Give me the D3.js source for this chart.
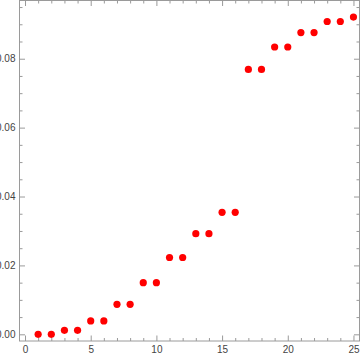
<!DOCTYPE html>
<html>
<head>
<meta charset="utf-8">
<script src="https://cdn.jsdelivr.net/npm/d3@7"></script>
<style>
  body { margin: 0; background: #fff; }
  svg { display: block; font-family: "Liberation Sans", Arial, sans-serif; }
  .axis text { font-size: 10px; fill: #444; }
  .axis line { stroke: #9a9a9a; }
  .axis path { display: none; }
</style>
</head>
<body>
<svg id="chart" width="361" height="356"></svg>
<script>
// data
var xValues = [1, 2, 3, 4, 5, 6, 7, 8, 9, 10, 11, 12, 13, 14, 15, 16, 17, 18, 19, 20, 21, 22, 23, 24, 25];
var yValues = [0, 0, 0.00116, 0.00116, 0.0039, 0.0039, 0.0087, 0.0087, 0.015, 0.015,
  0.0223, 0.0223, 0.0292, 0.0292, 0.0354, 0.0354, 0.0769, 0.0769, 0.0834, 0.0834,
  0.0876, 0.0876, 0.0908, 0.0908, 0.0921];
var xTicks = [0, 5, 10, 15, 20, 25];
var yTicks = [0, 0.02, 0.04, 0.06, 0.08];

function drawChart() {
  var points = xValues.map(function(d, i) { return {x: d, y: yValues[i]}; });

  // frame edges in pixels
  var frameLeft = 19.5, frameRight = 359.5, frameTop = 0.5, frameBottom = 341;

  var x = d3.scaleLinear().domain([-0.42, 25.46]).range([frameLeft, frameRight]);
  var y = d3.scaleLinear().domain([-0.00194, 0.0969]).range([frameBottom, frameTop]);

  var xMinor = d3.range(0, 26, 1).filter(function(d) { return d % 5 !== 0; });
  var yMinor = d3.range(0, 0.0951, 0.005).filter(function(d) { return Math.round(d * 1000) % 20 !== 0; });

  var svg = d3.select('#chart');

  // frame
  svg.append('rect')
    .attr('x', frameLeft).attr('y', frameTop)
    .attr('width', frameRight - frameLeft).attr('height', frameBottom - frameTop)
    .attr('fill', 'none').attr('stroke', '#9a9a9a');

  // inward ticks, labels on bottom and left
  svg.append('g').attr('class', 'axis')
    .attr('transform', 'translate(0,' + frameBottom + ')')
    .call(d3.axisBottom(x).tickValues(xTicks).tickSizeInner(-5.5).tickSizeOuter(0).tickPadding(4.5)
      .tickFormat(d3.format('d')));
  svg.append('g').attr('class', 'axis')
    .attr('transform', 'translate(0,' + frameBottom + ')')
    .call(d3.axisBottom(x).tickValues(xMinor).tickSizeInner(-3).tickSizeOuter(0).tickFormat(''));
  svg.append('g').attr('class', 'axis')
    .attr('transform', 'translate(' + frameLeft + ',0)')
    .call(d3.axisLeft(y).tickValues(yTicks).tickSizeInner(-5.5).tickSizeOuter(0).tickPadding(4)
      .tickFormat(d3.format('.2f')));
  svg.append('g').attr('class', 'axis')
    .attr('transform', 'translate(' + frameLeft + ',0)')
    .call(d3.axisLeft(y).tickValues(yMinor).tickSizeInner(-3).tickSizeOuter(0).tickFormat(''));

  // mirrored ticks on top and right
  svg.append('g').attr('class', 'axis')
    .attr('transform', 'translate(0,' + frameTop + ')')
    .call(d3.axisTop(x).tickValues(xTicks).tickSizeInner(-5.5).tickSizeOuter(0).tickFormat(''));
  svg.append('g').attr('class', 'axis')
    .attr('transform', 'translate(0,' + frameTop + ')')
    .call(d3.axisTop(x).tickValues(xMinor).tickSizeInner(-3).tickSizeOuter(0).tickFormat(''));
  svg.append('g').attr('class', 'axis')
    .attr('transform', 'translate(' + frameRight + ',0)')
    .call(d3.axisRight(y).tickValues(yTicks).tickSizeInner(-5.5).tickSizeOuter(0).tickFormat(''));
  svg.append('g').attr('class', 'axis')
    .attr('transform', 'translate(' + frameRight + ',0)')
    .call(d3.axisRight(y).tickValues(yMinor).tickSizeInner(-3).tickSizeOuter(0).tickFormat(''));

  // points
  svg.append('g').selectAll('circle')
    .data(points)
    .enter().append('circle')
    .attr('cx', function(d) { return x(d.x); })
    .attr('cy', function(d) { return y(d.y); })
    .attr('r', 3.6)
    .attr('fill', '#ff0000');
}

drawChart();
</script>
</body>
</html>
